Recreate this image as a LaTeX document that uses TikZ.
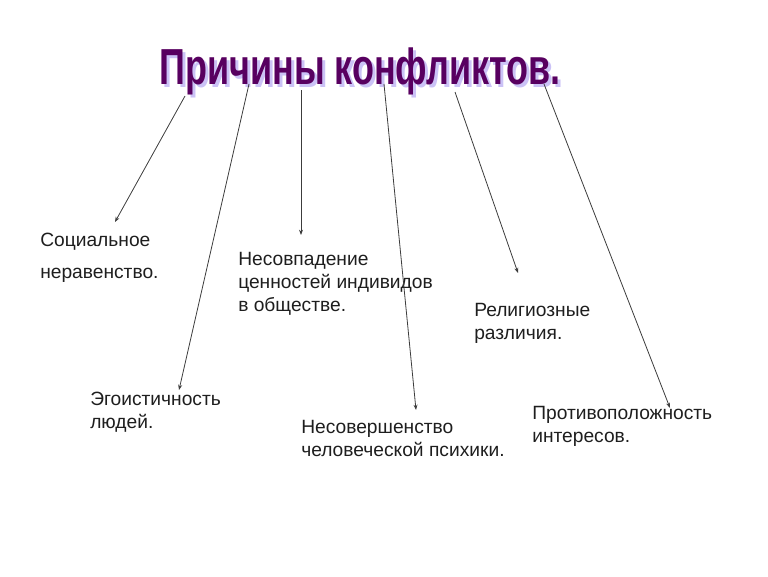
\documentclass[tikz,border=0pt]{standalone}
\usepackage{fontspec}
\setmainfont{Liberation Sans}
\newfontfamily\titlefont[FakeStretch=0.71]{Liberation Sans}
\usetikzlibrary{arrows.meta}

\definecolor{titlepurple}{RGB}{88,0,96}
\definecolor{titleglow}{RGB}{140,120,235}
\definecolor{causetext}{RGB}{30,30,30}
\definecolor{linkgray}{RGB}{60,60,60}

\begin{document}
\begin{tikzpicture}[x=0.75pt,y=-0.75pt,
    cause/.style={anchor=base west,inner sep=0pt,align=left,text=causetext,
      font=\fontsize{14.4}{17.2}\selectfont},
    heading/.style={anchor=base,inner sep=0pt,
      font=\titlefont\bfseries\fontsize{38}{38}\selectfont},
    link/.style={draw=linkgray,line width=0.6pt,-{Stealth[length=4pt,width=3pt]}}]
  \useasboundingbox (0,0) rectangle (768,576);

  %% title with its glow
  \node[heading,text=titleglow,opacity=0.45] (glow) at (363,87) {Причины конфликтов.};
  \node[heading,text=titlepurple] (title) at (360,84) {Причины конфликтов.};

  %% causes (anchored at the baseline of their last line)
  \node[cause,font=\fontsize{14.4}{24}\selectfont] (social) at (40,278) {Социальное\\неравенство.};
  \node[cause] (values) at (238,311) {Несовпадение\\ценностей индивидов\\в обществе.};
  \node[cause] (selfish) at (90,428) {Эгоистичность\\людей.};
  \node[cause] (psyche) at (301,456) {Несовершенство\\человеческой психики.};
  \node[cause] (religion) at (474,339) {Религиозные\\различия.};
  \node[cause] (interest) at (532,442) {Противоположность\\интересов.};

  %% where the links leave the title
  \coordinate (s1) at (185,96);
  \coordinate (s2) at (249,84);
  \coordinate (s3) at (301,90);
  \coordinate (s4) at (384,84);
  \coordinate (s5) at (455,92);
  \coordinate (s6) at (544,84);

  %% where the links stop
  \coordinate (t1) at (115,222);
  \coordinate (t2) at (179,390);
  \coordinate (t3) at (301,235);
  \coordinate (t4) at (416,410);
  \coordinate (t5) at (518,273);
  \coordinate (t6) at (670,408);

  \draw[link] (s1) -- (t1);
  \draw[link] (s2) -- (t2);
  \draw[link] (s3) -- (t3);
  \draw[link] (s4) -- (t4);
  \draw[link] (s5) -- (t5);
  \draw[link] (s6) -- (t6);

\end{tikzpicture}
\end{document}
